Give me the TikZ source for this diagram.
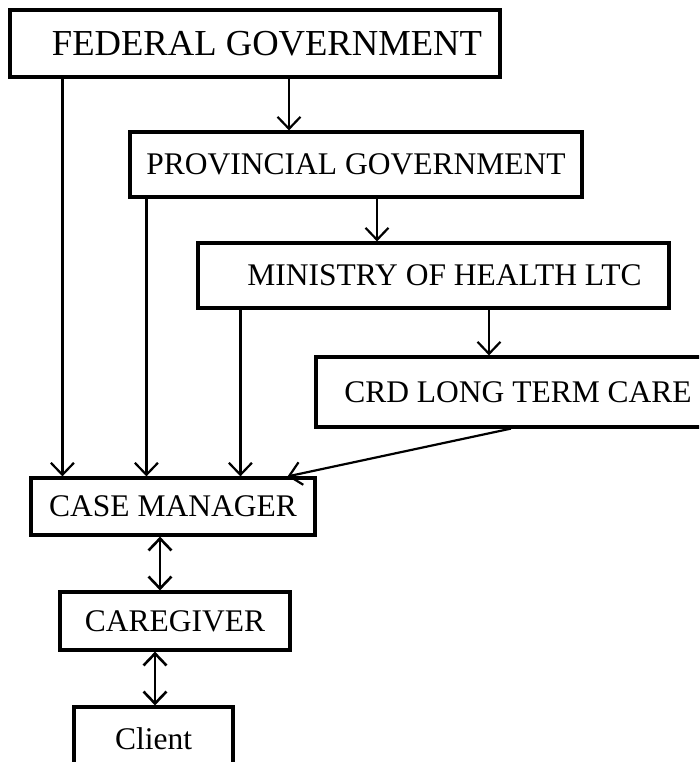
\documentclass[tikz,border=0pt]{standalone}
\usepackage{fontspec}
\setmainfont{Liberation Serif}
\usetikzlibrary{arrows.meta}

\begin{document}
\begin{tikzpicture}[x=1pt, y=-1pt, >={Straight Barb[length=12pt,width=23pt]}]
	\tikzset{block/.style={draw, rectangle, line width=3.2pt, inner sep=0pt, align=center, font=\fontsize{31.5}{36}\selectfont},
		link/.style={draw, ->, line width=2.2pt},
		both/.style={draw, <->, line width=2.6pt}}
	\clip (0,0) rectangle (699,762);

	\node [block, minimum width=490pt, minimum height=67pt, font=\fontsize{36.6}{40}\selectfont] (fed) at (255,43.5) {\hspace*{24pt}FEDERAL GOVERNMENT};
	\node [block, minimum width=452pt, minimum height=65pt] (prov) at (356,164.5) {PROVINCIAL GOVERNMENT};
	\node [block, minimum width=471pt, minimum height=65pt] (min) at (433.5,275.5) {\hspace*{22pt}MINISTRY OF HEALTH LTC};
	\node [block, minimum width=404pt, minimum height=70pt] (crd) at (518,392) {CRD LONG TERM CARE};
	\node [block, minimum width=284pt, minimum height=57pt] (case) at (173,506.5) {CASE MANAGER};
	\node [block, minimum width=230pt, minimum height=58pt] (care) at (175,621) {CAREGIVER};
	\node [block, minimum width=159pt, minimum height=64pt] (client) at (153.5,739) {Client};

	% chain down the right side
	\path[link] ([xshift=34pt]fed.south) -- ([xshift=34pt]fed.south |- prov.north);
	\path[link] ([xshift=21pt]prov.south) -- ([xshift=21pt]prov.south |- min.north);
	\path[link] ([xshift=55.5pt]min.south) -- ([xshift=55.5pt]min.south |- crd.north);

	% everything feeds the case manager
	\path[link] ([xshift=54pt]fed.south west) -- ([xshift=54pt]fed.south west |- case.north);
	\path[link] ([xshift=18pt]prov.south west) -- ([xshift=18pt]prov.south west |- case.north);
	\path[link] ([xshift=44pt]min.south west) -- ([xshift=44pt]min.south west |- case.north);
	\path[link] ([xshift=-7pt]crd.south) -- ([xshift=-29pt]case.north east);

	\path[both] ([xshift=-13pt]case.south) -- ([xshift=-13pt]case.south |- care.north);
	\path[both] ([xshift=-20pt]care.south) -- ([xshift=-20pt]care.south |- client.north);
\end{tikzpicture}
\end{document}
